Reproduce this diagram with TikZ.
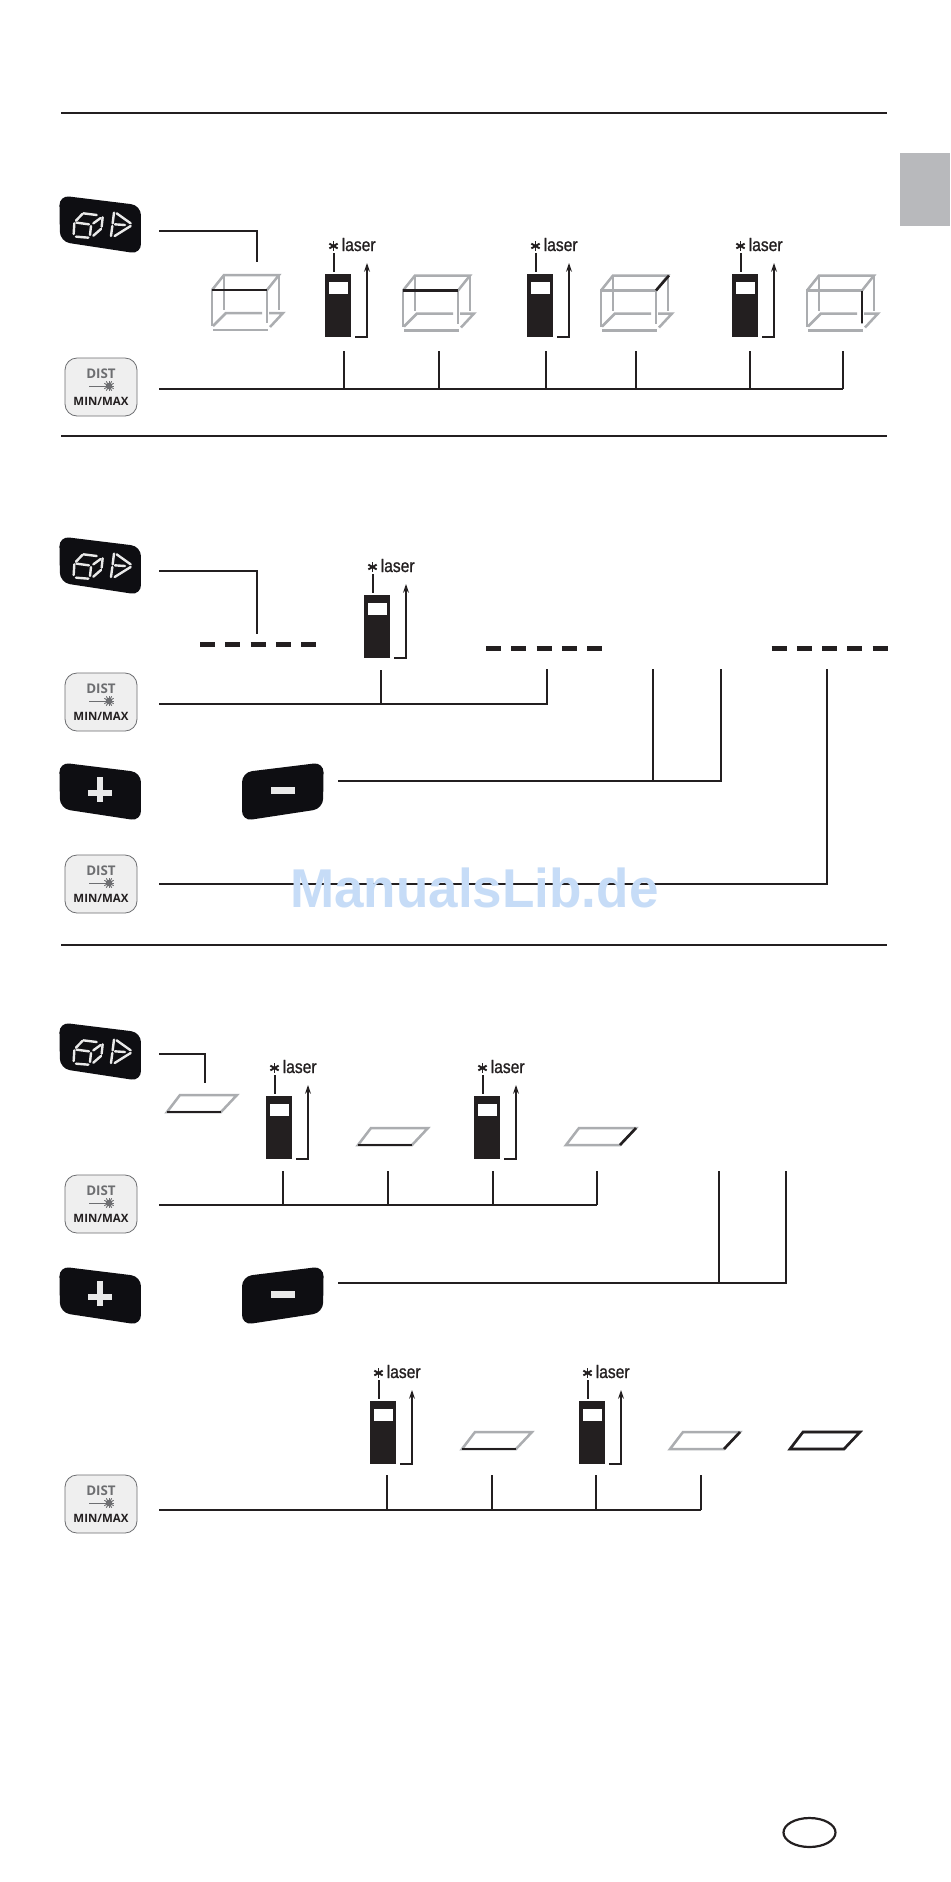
\documentclass[tikz,border=0pt]{standalone}
\usepackage{fontspec}
\setmainfont{Liberation Sans}
\newfontfamily\keyfont{Open Sans}
\newfontfamily\laserfont[FakeStretch=0.86,FakeBold=0.9]{Liberation Sans}
\usetikzlibrary{arrows.meta}
\definecolor{ink}{HTML}{231F20}
\definecolor{keyblack}{HTML}{0E0E12}
\definecolor{seg}{HTML}{E9E9E9}
\definecolor{boxgrey}{HTML}{ABADB0}
\definecolor{tabgrey}{HTML}{B8B9BC}
\definecolor{keygrey}{HTML}{EFEFEF}
\definecolor{distgrey}{HTML}{6D6E71}
\definecolor{mark}{HTML}{C6DCF7}
\tikzset{
  px/.style={line width=#1*0.75pt},
  wire/.style={draw=ink,px=2.4,line cap=butt,line join=miter},
  rulel/.style={draw=ink,px=1.2},
  greyl/.style={draw=boxgrey,px=2.5},
  hil/.style={draw=ink,px=2.6},
  dashl/.style={draw=ink,px=5},
  segl/.style={draw=seg,px=2.4,line cap=round},
  keyshape/.style={fill=keyblack,rounded corners=7.5pt},
  lasertxt/.style={font=\laserfont\fontsize{13.6}{15}\selectfont,text=ink,inner sep=0pt,anchor=base west},
  cube key/.pic={
    \begin{scope}[scale=0.3333]
      \path[keyshape] (-2,-2) -- (243,28) -- (243,174) -- (0,137) -- cycle;
      \draw[segl] (43,82) -- (41,114);
      \draw[segl] (48,122) -- (85,125);
      \draw[segl] (50,80) -- (87,85);
      \draw[segl] (93,90) -- (90,117);
      \draw[segl] (70,52) -- (110,57);
      \draw[segl] (48,74) -- (67,54);
      \draw[segl] (128,64) -- (125,92);
      \draw[segl] (122,66) -- (100,82);
      \draw[segl] (123,99) -- (100,119);
      \draw[segl] (162,50) -- (158,82);
      \draw[segl] (157,90) -- (153,120);
      \draw[segl] (170,52) -- (212,82);
      \draw[segl] (164,120) -- (212,90);
      \draw[segl] (165,85) -- (195,87);
    \end{scope}
  },
  plus key/.pic={
    \begin{scope}[scale=0.3333]
      \path[keyshape] (-2,-2) -- (243,28) -- (243,174) -- (0,137) -- cycle;
      \fill[seg] (85,80) rectangle (157,98);
      \fill[seg] (112,43) rectangle (130,117);
    \end{scope}
  },
  minus key/.pic={
    \begin{scope}[xscale=-0.3333,yscale=0.3333]
      \path[keyshape] (-2,-2) -- (243,28) -- (243,174) -- (0,137) -- cycle;
      \fill[seg] (85,72) rectangle (157,92);
    \end{scope}
  },
  dist key/.pic={
    \path[draw=distgrey,px=0.8,fill=keygrey,rounded corners=9pt] (0,0) rectangle (72,58);
    \node[font=\keyfont\bfseries\fontsize{10}{11}\selectfont,text=distgrey,inner sep=0pt,anchor=base] (-dist) at (36,20.5) {DIST};
    \node[font=\keyfont\bfseries\fontsize{8.6}{10}\selectfont,text=ink,inner sep=0pt,anchor=base] (-mm) at (36,47) {MIN/MAX};
    \draw[draw=distgrey,px=1] (24,28) -- (42,28);
    \fill[distgrey] (44,28) circle[radius=3.2];
    \foreach \a in {0,30,...,330} {\draw[distgrey,px=0.9] (44,28) -- ++(\a:5.4);}
  },
  meter/.pic={
    \fill[ink] (0,0) rectangle (26,63);
    \fill[white] (4,8) rectangle (23,20);
    \draw[ink,px=2.2] (9,-21) -- (9,-2);
    \foreach \a in {90,30,-30} {\draw[ink,px=1.9] (8.5,-28) ++(\a:4.8) -- ++(\a+180:9.6);}
    \node[lasertxt] (-laser) at (16.5,-23) {laser};
    \draw[wire,-{Stealth[length=6.5pt,width=4.4pt]}] (30,63) -- (42,63) -- (42,-11);
  }
}
\newcommand{\cubeat}[3]{%
  \begin{scope}[shift={(#1,#2)}]
    \draw[greyl] (0,36) -- (0,0) -- (55,0) -- (55,33);
    \draw[greyl] (0,0) -- (12,-15) -- (67,-15) -- (55,0);
    \draw[greyl] (12,-15) -- (12,20);
    \draw[greyl] (67,-15) -- (67,20);
    \draw[greyl] (1,40) -- (56,40);
    \draw[greyl] (1,36) -- (14,23) -- (50,23);
    \draw[greyl] (57,23) -- (71,23) -- (58,37);
    \draw[hil] #3;
  \end{scope}}
\newcommand{\planeat}[3]{%
  \begin{scope}[shift={(#1,#2)}]
    \draw[greyl] (0,0) -- (54,0) -- (70,-17) -- (13,-17) -- cycle;
    \draw[hil] #3;
  \end{scope}}
\newcommand{\dashesat}[3]{%
  \coordinate (#1) at (#2,#3);
  \foreach \o in {0,25.3,50.6,75.9,101.2} {\draw[dashl] (#2+\o,#3) -- ++(15,0);}}
\begin{document}
\begin{tikzpicture}[x=0.75pt,y=-0.75pt]
\useasboundingbox (0,0) rectangle (950,1882);
\fill[white] (0,0) rectangle (950,1882);
% page furniture
\fill[tabgrey] (900,153) rectangle (950,226);
\coordinate (r1a) at (61,113); \coordinate (r1b) at (887,113);
\coordinate (r2a) at (61,436); \coordinate (r2b) at (887,436);
\coordinate (r3a) at (61,945); \coordinate (r3b) at (887,945);
\draw[rulel,px=2] (r1a) -- (r1b);
\draw[rulel] (r2a) -- (r2b);
\draw[rulel] (r3a) -- (r3b);
\draw[draw=ink,px=2.2] (809.5,1832.5) ellipse[x radius=26,y radius=14.5];

% --- section 1
\pic (ka) at (60,196) {cube key};
\pic (da) at (65,358) {dist key};
\coordinate (c1a) at (159,231); \coordinate (c1b) at (257,231); \coordinate (c1c) at (257,262);
\draw[wire] (c1a) -- (c1b) -- (c1c);
\cubeat{212}{290}{(0,0) -- (55,0)}
\pic (m1) at (325,274) {meter};
\cubeat{403}{290.5}{(0,0) -- (55,0)}
\pic (m2) at (527,274) {meter};
\cubeat{601}{290.5}{(55,0) -- (68,-15)}
\pic (m3) at (732,274) {meter};
\cubeat{807}{290.5}{(55,0) -- (55,32)}
\coordinate (w1a) at (159,389); \coordinate (w1b) at (843,389);
\draw[wire] (w1a) -- (w1b);
\foreach \x/\n in {344/a,439/b,546/c,636/d,750/e,843/f} {
  \coordinate (t1\n) at (\x,351);
  \draw[wire] (t1\n) -- (t1\n |- w1a);
}

% --- section 2
\pic (kb) at (60,537) {cube key};
\pic (db) at (65,673) {dist key};
\pic (kc) at (60,763) {plus key};
\pic (kd) at (323,763) {minus key};
\pic (dc) at (65,855) {dist key};
\coordinate (c2a) at (159,571); \coordinate (c2b) at (257,571); \coordinate (c2c) at (257,634);
\draw[wire] (c2a) -- (c2b) -- (c2c);
\dashesat{dA}{200}{644}
\dashesat{dB}{486}{648.3}
\dashesat{dC}{771.5}{648.3}
\pic (m4) at (364,595) {meter};
\coordinate (w2a) at (159,704); \coordinate (w2b) at (547,704); \coordinate (t2b) at (547,669); \coordinate (t2a) at (381,670);
\draw[wire] (w2a) -- (w2b) -- (t2b);
\draw[wire] (t2a) -- (t2a |- w2a);
\coordinate (w3a) at (338,781); \coordinate (w3b) at (721,781); \coordinate (t3b) at (721,669); \coordinate (t3a) at (653,669);
\draw[wire] (w3a) -- (w3b) -- (t3b);
\draw[wire] (t3a) -- (t3a |- w3a);
\coordinate (w4a) at (159,884); \coordinate (w4b) at (827,884); \coordinate (t4) at (827,669);
\draw[wire] (w4a) -- (w4b) -- (t4);
\node[font=\bfseries\fontsize{41}{44}\selectfont,text=mark,inner sep=0pt,anchor=base west,xscale=0.97] (wm) at (290,907) {ManualsLib.de};

% --- section 3
\pic (ke) at (60,1023) {cube key};
\pic (dd) at (65,1175) {dist key};
\pic (kf) at (60,1267) {plus key};
\pic (kg) at (323,1267) {minus key};
\coordinate (c3a) at (159,1054); \coordinate (c3b) at (205,1054); \coordinate (c3c) at (205,1083);
\draw[wire] (c3a) -- (c3b) -- (c3c);
\planeat{167}{1112}{(0,0) -- (54,0)}
\pic (m5) at (266,1096) {meter};
\planeat{358}{1145}{(0,0) -- (54,0)}
\pic (m6) at (474,1096) {meter};
\planeat{566}{1145}{(54,0) -- (70,-17)}
\coordinate (w5a) at (159,1205); \coordinate (w5b) at (597,1205);
\draw[wire] (w5a) -- (w5b);
\foreach \x/\n in {283/a,388/b,493/c,597/d} {
  \coordinate (t5\n) at (\x,1171);
  \draw[wire] (t5\n) -- (t5\n |- w5a);
}
\coordinate (w6a) at (338,1283); \coordinate (w6b) at (786,1283); \coordinate (t6b) at (786,1171); \coordinate (t6a) at (719,1171);
\draw[wire] (w6a) -- (w6b) -- (t6b);
\draw[wire] (t6a) -- (t6a |- w6a);

% --- section 4
\pic (de) at (65,1475) {dist key};
\pic (m7) at (370,1401) {meter};
\planeat{462}{1449}{(0,0) -- (54,0)}
\pic (m8) at (579,1401) {meter};
\planeat{670}{1449}{(54,0) -- (70,-17)}
\planeat{790}{1449}{(0,0) -- (54,0) -- (70,-17) -- (13,-17) -- cycle}
\coordinate (w7a) at (159,1510); \coordinate (w7b) at (701,1510);
\draw[wire] (w7a) -- (w7b);
\foreach \x/\n in {387/a,492/b,596/c,701/d} {
  \coordinate (t7\n) at (\x,1475);
  \draw[wire] (t7\n) -- (t7\n |- w7a);
}
\end{tikzpicture}
\end{document}
